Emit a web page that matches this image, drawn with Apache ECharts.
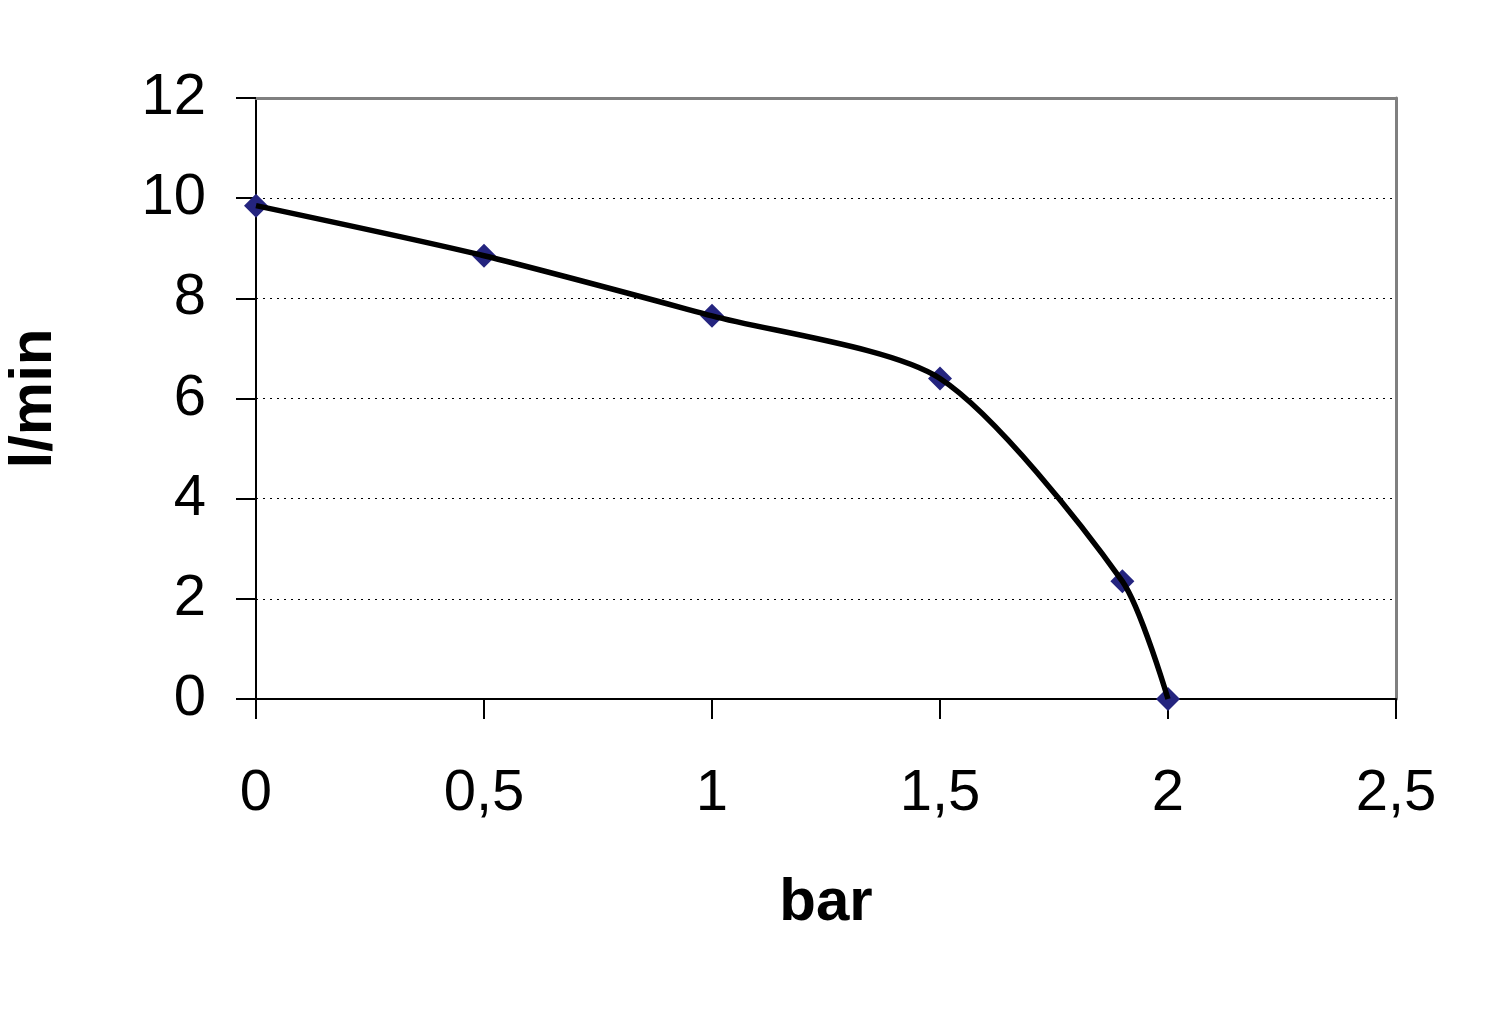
<!DOCTYPE html>
<html><head><meta charset="utf-8">
<script src="https://cdn.jsdelivr.net/npm/echarts@6/dist/echarts.min.js"></script>
<style>html,body{margin:0;padding:0;background:#fff}#c{width:1500px;height:1016px}</style>
</head><body><div id="c"></div>
<script>
var pressureBar = [0, 0.5, 1, 1.5, 1.9, 2];
var flowLmin = [9.85, 8.85, 7.65, 6.4, 2.35, 0];
var xTitle = 'bar';
var yTitle = 'l/min';

var pts = pressureBar.map(function(x, i){ return [x, flowLmin[i]]; });
var fmt = function(v){ return String(v).replace('.', ','); };
var chart = echarts.init(document.getElementById('c'));
chart.setOption({
  animation: false,
  grid: {left: 256, right: 104, top: 98, bottom: 317, containLabel: false, outerBoundsMode: 'none'},
  xAxis: [{
    type: 'value', min: 0, max: 2.5, interval: 0.5, position: 'bottom',
    name: xTitle, nameLocation: 'middle', nameGap: 174,
    nameTextStyle: {fontFamily: 'Liberation Sans', fontWeight: 'bold', fontSize: 60, color: '#000'},
    axisLine: {show: true, onZero: false, lineStyle: {color: '#000', width: 2}},
    axisTick: {show: true, length: 20, lineStyle: {color: '#000', width: 2}},
    axisLabel: {margin: 66, fontFamily: 'Liberation Sans', fontSize: 58, color: '#000', formatter: fmt},
    splitLine: {show: false}
  }, {
    type: 'value', min: 0, max: 2.5, position: 'top',
    axisLine: {show: true, onZero: false, lineStyle: {color: '#808080', width: 3}},
    axisTick: {show: false}, axisLabel: {show: false}, splitLine: {show: false}
  }],
  yAxis: [{
    type: 'value', min: 0, max: 12, interval: 2, position: 'left',
    name: yTitle, nameLocation: 'middle', nameGap: 192, nameRotate: 90,
    nameTextStyle: {fontFamily: 'Liberation Sans', fontWeight: 'bold', fontSize: 60, color: '#000'},
    axisLine: {show: true, onZero: false, lineStyle: {color: '#000', width: 2}},
    axisTick: {show: true, length: 20, lineStyle: {color: '#000', width: 2}},
    axisLabel: {margin: 50, fontFamily: 'Liberation Sans', fontSize: 58, color: '#000'},
    splitLine: {show: true, lineStyle: {color: '#000', type: [2, 5], width: 1}}
  }, {
    type: 'value', min: 0, max: 12, position: 'right',
    axisLine: {show: true, onZero: false, lineStyle: {color: '#808080', width: 3}},
    axisTick: {show: false}, axisLabel: {show: false}, splitLine: {show: false}
  }],
  series: [{
    type: 'scatter', data: pts, symbol: 'diamond', symbolSize: [24, 24],
    itemStyle: {color: '#24247f', opacity: 1}, z: 2
  }, {
    type: 'line', data: pts, smooth: 0.25, showSymbol: false, symbol: 'none',
    lineStyle: {color: '#000', width: 5.5}, z: 3
  }]
});
</script></body></html>
